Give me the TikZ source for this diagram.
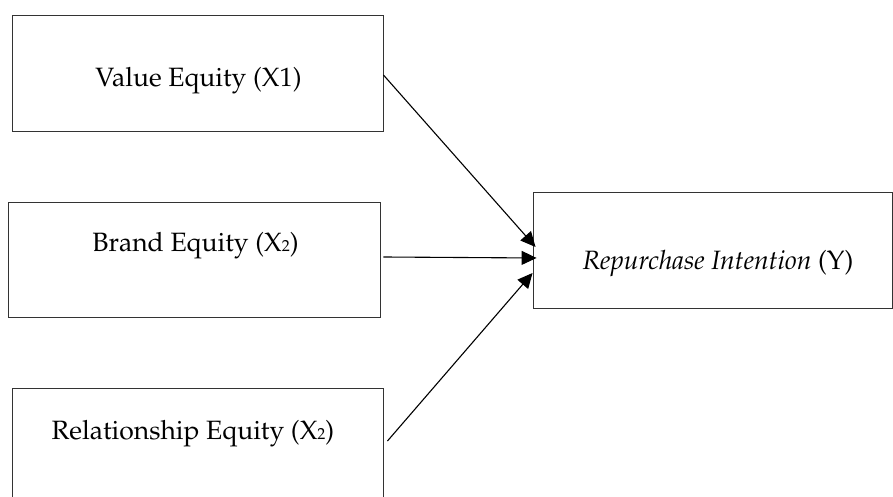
\documentclass[tikz,border=0pt]{standalone}
\usepackage[T1]{fontenc}
\usepackage{mathpazo}
\usetikzlibrary{arrows.meta}
\tikzset{box/.style={draw=black!80,line width=0.9pt,minimum width=371pt,minimum height=116pt,inner sep=0pt},
lbl/.style={anchor=base,inner sep=0pt,font=\fontsize{26.5}{32}\selectfont},
arr/.style={-{Triangle[length=15pt,width=14pt]},line width=1.1pt}}
\newcommand{\sml}[1]{{\fontsize{16}{16}\selectfont #1}}
\begin{document}
\begin{tikzpicture}[x=1pt,y=1pt]
\clip (0,0) rectangle (893,497);
\node [box] (vq) at (197.5,424) {};
\node [box,minimum width=372pt,minimum height=115pt] (bq) at (194,237.5) {};
\node [box] (rq) at (197.5,51) {};
\node [box,minimum width=359pt] (ri) at (712.5,247) {};
\node [lbl] (vqt) at (198.5,410) {Value Equity (X1)};
\node [lbl] (bqt) at (195.5,245) {Brand Equity (X\sml{2})};
\node [lbl] (rqt) at (193,57) {Relationship Equity (X\sml{2})};
\node [lbl] (rit) at (718,227) {\textit{Repurchase Intention} (Y)};
\draw [arr] ([yshift=-2pt]vq.east) -- ([shift={(3pt,3pt)}]ri.west);
\draw [arr] ([shift={(3pt,2.5pt)}]bq.east) -- ([shift={(4pt,-8pt)}]ri.west);
\draw [arr] ([shift={(4pt,5pt)}]rq.east) -- ([yshift=-23pt]ri.west);
\end{tikzpicture}
\end{document}
